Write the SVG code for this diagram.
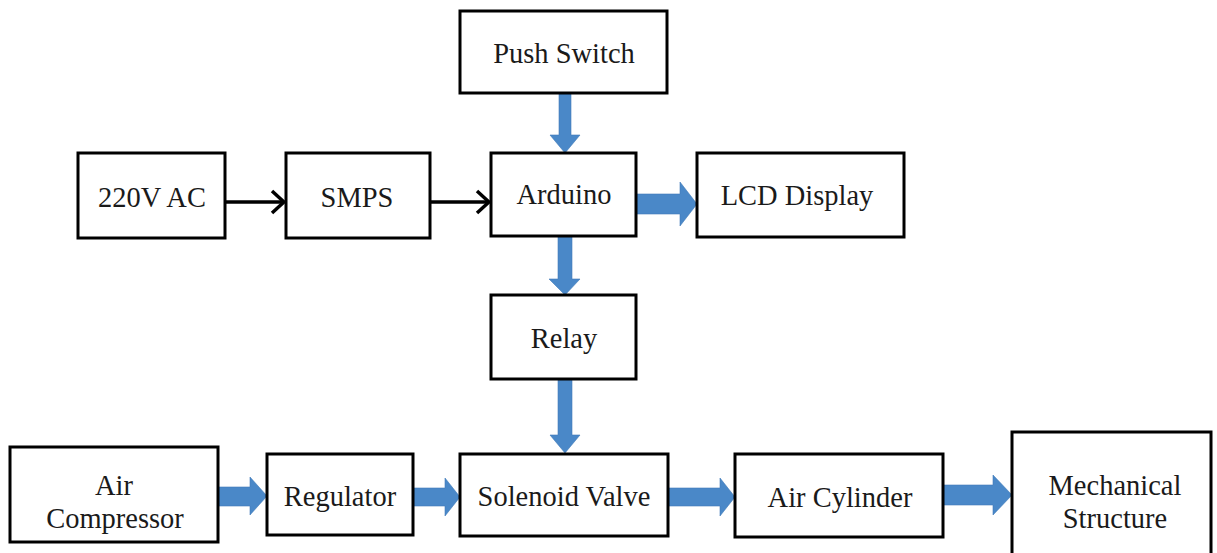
<svg xmlns="http://www.w3.org/2000/svg" width="1217" height="553" viewBox="0 0 1217 553">
<style>
.box{fill:#fff;stroke:#000;stroke-width:3}
.t{font-family:"Liberation Serif","Times New Roman",serif;font-size:30px;fill:#1a1a1a;text-anchor:middle}
.blue{fill:#4A88C8;stroke:#3f7ab8;stroke-width:0.6}
.blk{fill:none;stroke:#000;stroke-width:3.5}
</style>
<defs>
<marker id="chev" viewBox="0 0 16 26" refX="14" refY="13" markerWidth="16" markerHeight="26" markerUnits="userSpaceOnUse" orient="auto">
<path d="M2,2 L14,13 L2,24" fill="none" stroke="#000" stroke-width="3.5"/>
</marker>
</defs>
<rect width="1217" height="553" fill="#fff"/>
<g id="connectors">
<line class="blk" x1="225" y1="202" x2="284" y2="202" marker-end="url(#chev)"/>
<line class="blk" x1="430" y1="202" x2="489" y2="202" marker-end="url(#chev)"/>
<polygon class="blue" points="559,93 571,93 571,135 580,135 565,153 550,135 559,135"/>
<polygon class="blue" points="558,236 572,236 572,279 580,279 565,295 549,279 558,279"/>
<polygon class="blue" points="558,379 572,379 572,435 580,435 565,453 550,435 558,435"/>
<polygon class="blue" points="636,194 680,194 680,182 697,204 680,226 680,214 636,214"/>
<polygon class="blue" points="218,487 250,487 250,477 267,496 250,515 250,506 218,506"/>
<polygon class="blue" points="413,488 445,488 445,478 460,497 445,516 445,506 413,506"/>
<polygon class="blue" points="668,488 720,488 720,478 735,497 720,516 720,506 668,506"/>
<polygon class="blue" points="943,485 993,485 993,475 1012,495 993,515 993,505 943,505"/>
</g>
<g id="push-switch"><rect class="box" x="460" y="11" width="207" height="82"/><text class="t" x="564" y="63" transform="matrix(0.95 0 0 1 28.2 0)">Push Switch</text></g>
<g id="ac220"><rect class="box" x="78" y="153" width="147" height="85"/><text class="t" x="152" y="207" transform="matrix(0.95 0 0 1 7.6 0)">220V AC</text></g>
<g id="smps"><rect class="box" x="286" y="153" width="144" height="85"/><text class="t" x="357" y="207" transform="matrix(0.95 0 0 1 17.85 0)">SMPS</text></g>
<g id="arduino"><rect class="box" x="491" y="153" width="145" height="83"/><text class="t" x="564" y="204" transform="matrix(0.95 0 0 1 28.2 0)">Arduino</text></g>
<g id="lcd"><rect class="box" x="697" y="153" width="207" height="84"/><text class="t" x="797" y="205" transform="matrix(0.95 0 0 1 39.85 0)">LCD Display</text></g>
<g id="relay"><rect class="box" x="491" y="295" width="145" height="84"/><text class="t" x="564" y="348" transform="matrix(0.95 0 0 1 28.2 0)">Relay</text></g>
<g id="air-compressor"><rect class="box" x="10" y="447" width="208" height="95"/><text class="t" x="114" y="495" transform="matrix(0.95 0 0 1 5.7 0)">Air</text><text class="t" x="115" y="528" transform="matrix(0.95 0 0 1 5.75 0)">Compressor</text></g>
<g id="regulator"><rect class="box" x="267" y="454" width="146" height="81"/><text class="t" x="340" y="506" transform="matrix(0.95 0 0 1 17 0)">Regulator</text></g>
<g id="solenoid"><rect class="box" x="460" y="454" width="208" height="82"/><text class="t" x="564" y="506" transform="matrix(0.95 0 0 1 28.2 0)">Solenoid Valve</text></g>
<g id="air-cylinder"><rect class="box" x="735" y="454" width="208" height="83"/><text class="t" x="840" y="507" transform="matrix(0.95 0 0 1 42 0)">Air Cylinder</text></g>
<g id="mechanical"><rect class="box" x="1012" y="432" width="199" height="140"/><text class="t" x="1115" y="495" transform="matrix(0.95 0 0 1 55.75 0)">Mechanical</text><text class="t" x="1115" y="528" transform="matrix(0.95 0 0 1 55.75 0)">Structure</text></g>
</svg>
